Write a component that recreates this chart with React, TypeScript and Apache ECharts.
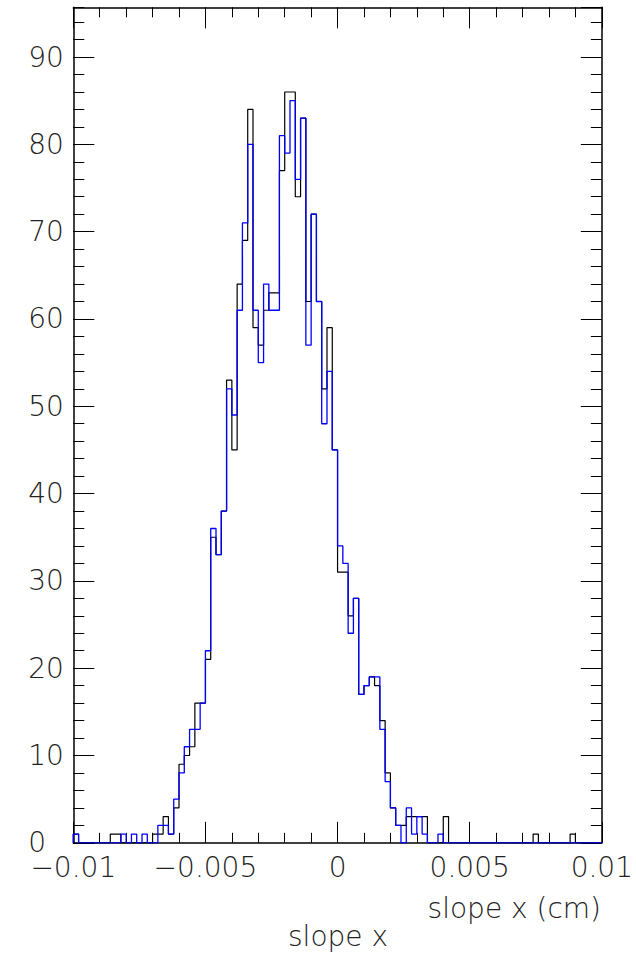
import React, { useEffect, useRef } from "react";
import * as echarts from "echarts";

// Histogram binning: 100 bins from -0.01 to 0.01
const BIN_MIN = -0.01;
const BIN_WIDTH = 0.0002;

// black histogram counts per bin
const blackCounts = [
  1, 0, 0, 0, 0, 0, 0, 1, 1, 0,
  0, 0, 0, 0, 0, 1, 1, 3, 1, 4,
  9, 10, 11, 16, 16, 21, 35, 33, 38, 53,
  45, 64, 69, 84, 59, 57, 61, 63, 63, 77,
  86, 86, 74, 83, 62, 72, 62, 52, 59, 45,
  31, 31, 26, 28, 17, 18, 19, 18, 14, 8,
  4, 2, 2, 3, 3, 3, 3, 0, 0, 0,
  3, 0, 0, 0, 0, 0, 0, 0, 0, 0,
  0, 0, 0, 0, 0, 0, 0, 1, 0, 0,
  0, 0, 0, 0, 1, 0, 0, 0, 0, 0,
];

// blue histogram counts per bin
const blueCounts = [
  1, 0, 0, 0, 0, 0, 0, 0, 0, 1,
  0, 1, 0, 1, 0, 0, 2, 2, 1, 5,
  8, 11, 13, 13, 16, 22, 36, 33, 38, 52,
  49, 61, 71, 80, 61, 55, 64, 61, 61, 81,
  79, 85, 76, 83, 57, 72, 62, 48, 54, 45,
  34, 32, 24, 28, 17, 18, 19, 19, 13, 7,
  4, 2, 0, 4, 1, 3, 1, 0, 0, 1,
  0, 0, 0, 0, 0, 0, 0, 0, 0, 0,
  0, 0, 0, 0, 0, 0, 0, 0, 0, 0,
  0, 0, 0, 0, 0, 0, 0, 0, 0, 0,
];

const X_MIN = -0.01;
const X_MAX = 0.01;
const X_INTERVAL = 0.005;
const Y_MIN = 0;
const Y_MAX = 95.7;
const Y_INTERVAL = 10;
const Y_MINOR_INTERVAL = 2;

const X_TITLE = "slope x (cm)";
const BOTTOM_TITLE = "slope x";

function stepData(counts: number[]): number[][] {
  const pts: number[][] = [[BIN_MIN, 0]];
  counts.forEach((c, i) => pts.push([BIN_MIN + i * BIN_WIDTH, c]));
  const end = BIN_MIN + counts.length * BIN_WIDTH;
  pts.push([end, counts[counts.length - 1]]);
  pts.push([end, 0]);
  return pts;
}

const FONT = "DejaVu Sans";
const TEXT_COLOR = "#222";

function fmtX(v: number): string {
  const r = Number(v.toFixed(4));
  if (r === 0) return "0";
  return (r < 0 ? "\u2212" : "") + String(Math.abs(r));
}

export default function App() {
  const ref = useRef<HTMLDivElement>(null);
  useEffect(() => {
    if (!ref.current) return;
    const chart = echarts.init(ref.current, undefined, { renderer: "svg" });
    const frameLine = { show: true, onZero: false, lineStyle: { color: "#000", width: 1.5 } };
    const noLine = { show: false, onZero: false };
    const majorTick = { show: true, inside: true, length: 21, lineStyle: { color: "#000", width: 1 } };
    const minorTickY = { show: true, inside: true, length: 11, lineStyle: { color: "#000", width: 1 } };
    chart.setOption({
      animation: false,
      backgroundColor: "#fff",
      grid: { left: 73.3, right: 33.3, top: 7.3, bottom: 117.2, containLabel: false },
      xAxis: [
        {
          type: "value",
          position: "bottom",
          min: X_MIN,
          max: X_MAX,
          interval: X_INTERVAL,
          axisLine: frameLine,
          axisTick: majorTick,
          minorTick: { show: true, splitNumber: 5, length: 10, lineStyle: { color: "#000", width: 1 } },
          splitLine: { show: false },
          axisLabel: {
            show: true,
            margin: 14,
            lineHeight: 22,
            formatter: fmtX,
            fontFamily: FONT,
            fontSize: 28,
            fontWeight: 200,
            color: TEXT_COLOR,
          },
        },
        {
          type: "value",
          position: "top",
          min: X_MIN,
          max: X_MAX,
          interval: X_INTERVAL,
          axisLine: frameLine,
          axisTick: majorTick,
          minorTick: { show: true, splitNumber: 5, length: 10, lineStyle: { color: "#000", width: 1 } },
          splitLine: { show: false },
          axisLabel: { show: false },
        },
      ],
      yAxis: [
        {
          type: "value",
          position: "left",
          min: Y_MIN,
          max: Y_MAX,
          interval: Y_INTERVAL,
          axisLine: frameLine,
          axisTick: majorTick,
          splitLine: { show: false },
          axisLabel: {
            show: true,
            showMaxLabel: false,
            align: "left",
            margin: 45,
            lineHeight: 22,
            fontFamily: FONT,
            fontSize: 28,
            fontWeight: 200,
            color: TEXT_COLOR,
          },
        },
        {
          type: "value",
          position: "left",
          min: Y_MIN,
          max: Y_MAX,
          interval: Y_MINOR_INTERVAL,
          axisLine: noLine,
          axisTick: minorTickY,
          splitLine: { show: false },
          axisLabel: { show: false },
        },
        {
          type: "value",
          position: "right",
          min: Y_MIN,
          max: Y_MAX,
          interval: Y_INTERVAL,
          axisLine: frameLine,
          axisTick: majorTick,
          splitLine: { show: false },
          axisLabel: { show: false },
        },
        {
          type: "value",
          position: "right",
          min: Y_MIN,
          max: Y_MAX,
          interval: Y_MINOR_INTERVAL,
          axisLine: noLine,
          axisTick: minorTickY,
          splitLine: { show: false },
          axisLabel: { show: false },
        },
      ],
      series: [
        {
          name: "black",
          type: "line",
          step: "end",
          xAxisIndex: 0,
          yAxisIndex: 0,
          symbol: "none",
          data: stepData(blackCounts),
          lineStyle: { color: "#000", width: 1.2 },
          z: 3,
        },
        {
          name: "blue",
          type: "line",
          step: "end",
          xAxisIndex: 0,
          yAxisIndex: 0,
          symbol: "none",
          data: stepData(blueCounts),
          lineStyle: { color: "#0000ff", width: 1.3 },
          z: 4,
        },
      ],
      graphic: [
        {
          type: "text",
          x: 601,
          y: 922,
          style: {
            text: X_TITLE,
            textAlign: "right",
            textVerticalAlign: "bottom",
            fontFamily: FONT,
            fontSize: 28,
            fontWeight: 200,
            fill: TEXT_COLOR,
          },
        },
        {
          type: "text",
          x: 338,
          y: 950,
          style: {
            text: BOTTOM_TITLE,
            textAlign: "center",
            textVerticalAlign: "bottom",
            fontFamily: FONT,
            fontSize: 28,
            fontWeight: 200,
            fill: TEXT_COLOR,
          },
        },
      ],
    });
    return () => chart.dispose();
  }, []);
  return (
    <div
      ref={ref}
      style={{ position: "fixed", left: 0, top: 0, width: 636, height: 960 }}
    />
  );
}
